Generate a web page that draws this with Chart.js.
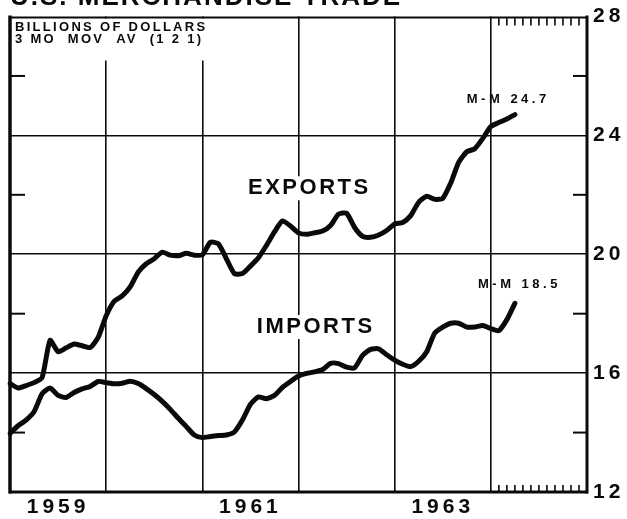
<!DOCTYPE html>
<html><head><meta charset="utf-8">
<script src="https://cdn.jsdelivr.net/npm/chart.js@4/dist/chart.umd.min.js"></script>
<style>html,body{margin:0;padding:0;background:#fff;}#wrap{width:627px;height:519px;position:relative;}</style>
</head><body><div id="wrap"><canvas id="c" width="627" height="519"></canvas></div>
<script>
// ---- data ----
const years = ['1959','1960','1961','1962','1963','1964'];
const monthNames = ['Jan','Feb','Mar','Apr','May','Jun','Jul','Aug','Sep','Oct','Nov','Dec'];
const endLabel = 'Jan 1965';
const yearLabels = ['1959','1961','1963'];
const yTickLabels = [12,16,20,24,28];
const minorYTicks = [14,18,22,26];
const title = 'U.S. MERCHANDISE TRADE';
const unitLines = ['BILLIONS OF DOLLARS','3 MO  MOV  AV  (1 2 1)'];
const exportsLabel = 'EXPORTS';
const importsLabel = 'IMPORTS';
const exportsNote = 'M-M 24.7';
const importsNote = 'M-M 18.5';

const exportsValues = [
 15.65,15.50,15.58,15.68,15.85,17.10,16.72,16.85,16.98,16.92,
 16.86,17.20,17.93,18.42,18.60,18.90,19.40,19.68,19.85,20.07,
 19.97,19.95,20.03,19.97,19.98,20.40,20.35,19.85,19.35,19.35,
 19.60,19.88,20.30,20.75,21.12,20.95,20.72,20.67,20.72,20.78,
 20.97,21.35,21.38,20.90,20.60,20.57,20.65,20.80,21.02,21.07,
 21.30,21.75,21.95,21.85,21.88,22.40,23.10,23.45,23.55,23.90,
 24.30,24.43,24.55,24.70];
const importsValues = [
 13.97,14.23,14.42,14.70,15.30,15.50,15.25,15.18,15.35,15.47,
 15.55,15.72,15.68,15.64,15.66,15.73,15.65,15.48,15.28,15.05,
 14.78,14.48,14.20,13.92,13.83,13.87,13.90,13.92,14.02,14.42,
 14.95,15.20,15.14,15.25,15.52,15.72,15.90,15.99,16.04,16.12,
 16.33,16.32,16.20,16.18,16.60,16.80,16.82,16.62,16.44,16.30,
 16.22,16.40,16.72,17.35,17.55,17.68,17.68,17.55,17.55,17.60,
 17.50,17.43,17.80,18.35];

const months = [];
years.forEach(y => monthNames.forEach(m => months.push(m + ' ' + y)));
months.push(endLabel);

const FONT = '"Liberation Sans", Arial, sans-serif';
const INK = '#0a0a0a';

const deco = {
  id: 'deco',
  beforeDraw(chart) { chart.ctx.letterSpacing = '4px'; },
  beforeDatasetsDraw(chart) {
    const {ctx, chartArea: a, scales: {x, y}} = chart;
    ctx.save();
    // unit note with white backing
    ctx.fillStyle = '#fff';
    ctx.fillRect(a.left + 2, a.top + 2, 208, 42);
    ctx.fillStyle = INK;
    ctx.textAlign = 'left';
    ctx.textBaseline = 'middle';
    ctx.font = 'bold 13px ' + FONT;
    ctx.letterSpacing = '2.3px';
    ctx.fillText(unitLines[0], a.left + 5, a.top + 11);
    ctx.fillText(unitLines[1], a.left + 5, a.top + 23);
    const label = (txt, mx, vy, font, sp, pad) => {
      ctx.font = font; ctx.letterSpacing = sp;
      const px = x.getPixelForValue(mx), py = y.getPixelForValue(vy);
      const w = ctx.measureText(txt).width;
      ctx.fillStyle = '#fff';
      ctx.fillRect(px - pad, py - 12, w + pad * 2, 24);
      ctx.fillStyle = INK;
      ctx.fillText(txt, px, py);
    };
    label(exportsLabel, 29.7, 22.22, 'bold 22px ' + FONT, '2.5px', 4);
    label(importsLabel, 30.8, 17.55, 'bold 22px ' + FONT, '2.5px', 4);
    ctx.restore();
    ctx.save();
    ctx.fillStyle = INK; ctx.textAlign = 'left'; ctx.textBaseline = 'middle';
    ctx.font = 'bold 13px ' + FONT; ctx.letterSpacing = '3.5px';
    ctx.fillText(exportsNote, x.getPixelForValue(57.0), y.getPixelForValue(25.2));
    ctx.fillText(importsNote, x.getPixelForValue(58.4), y.getPixelForValue(19.0));
    ctx.restore();
  },
  afterDraw(chart) {
    const {ctx, chartArea: a, scales: {x, y}} = chart;
    ctx.save();
    ctx.strokeStyle = INK;
    ctx.lineCap = 'butt';
    const seg = (x1, y1, x2, y2, w) => { ctx.lineWidth = w; ctx.beginPath(); ctx.moveTo(x1, y1); ctx.lineTo(x2, y2); ctx.stroke(); };
    // frame
    seg(a.left, a.top - 1, a.left, a.bottom + 1.5, 3.5);
    seg(a.left - 1, a.bottom, a.right + 1, a.bottom, 3);
    seg(a.right, a.top - 1, a.right, a.bottom + 1.5, 3);
    seg(a.left - 1, a.top + 1, a.right + 1, a.top + 1, 2.2);
    // minor value ticks on both sides
    minorYTicks.forEach(v => {
      const py = y.getPixelForValue(v);
      seg(a.left, py, a.left + 15, py, 2);
      seg(a.right - 14, py, a.right, py, 2);
    });
    // monthly ticks in the final year column
    months.forEach((m, i) => {
      const [mn, yr] = m.split(' ');
      if (yr === years[years.length - 1] && mn !== 'Jan') {
        const px = x.getPixelForValue(i);
        seg(px, a.bottom, px, a.bottom - 7, 1.6);
        seg(px, a.top + 1, px, a.top + 9, 1.6);
      }
    });
    // clipped title at top
    ctx.fillStyle = INK;
    ctx.textAlign = 'left'; ctx.textBaseline = 'alphabetic';
    ctx.font = 'bold 26px ' + FONT; ctx.letterSpacing = '2px';
    ctx.fillText(title, a.left, 5);
    ctx.restore();
  }
};

new Chart(document.getElementById('c'), {
  type: 'line',
  data: {
    labels: months,
    datasets: [
      {label: exportsLabel, data: exportsValues},
      {label: importsLabel, data: importsValues}
    ].map(d => Object.assign(d, {
      borderColor: INK, borderWidth: 5, pointRadius: 0, tension: 0.2,
      borderCapStyle: 'round', borderJoinStyle: 'round', fill: false
    }))
  },
  options: {
    responsive: false, animation: false, devicePixelRatio: 1,
    layout: {padding: {left: 10, top: 10, right: 0, bottom: 0}},
    plugins: {legend: {display: false}, tooltip: {enabled: false}},
    scales: {
      x: {
        type: 'category', offset: false,
        border: {display: false},
        grid: {
          drawTicks: false, lineWidth: 1.6,
          color: c => (c.index % 12 === 0 && c.index > 0 && c.index < months.length - 1) ? INK : 'rgba(0,0,0,0)'
        },
        ticks: {
          autoSkip: false, maxRotation: 0, minRotation: 0, padding: 5, color: INK,
          font: {family: FONT, size: 21, weight: 'bold', lineHeight: 1},
          callback: (v, i) => { const [mn, yr] = months[i].split(' '); return (mn === 'Jul' && yearLabels.includes(yr)) ? yr : ''; }
        },
        afterFit: s => { s.height = 27; }
      },
      y: {
        position: 'right', min: 12, max: 28,
        border: {display: false},
        grid: {
          drawTicks: false, lineWidth: 1.6,
          color: c => (c.tick.value > 12 && c.tick.value < 28) ? INK : 'rgba(0,0,0,0)'
        },
        ticks: {
          stepSize: 4, padding: 6, color: INK,
          font: {family: FONT, size: 21, weight: 'bold', lineHeight: 1},
          callback: v => yTickLabels.includes(v) ? String(v) : ''
        },
        afterFit: s => { s.width = 40; }
      }
    }
  },
  plugins: [deco]
});
</script></body></html>
